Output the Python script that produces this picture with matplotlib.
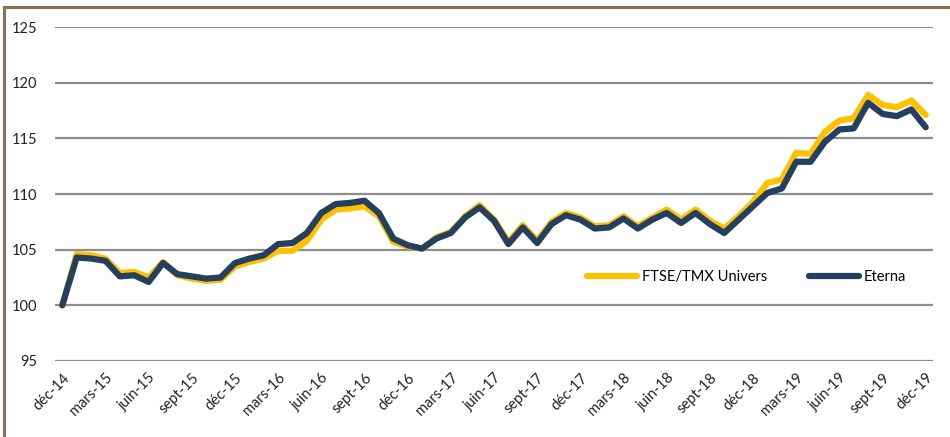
import numpy as np
import matplotlib.pyplot as plt
from matplotlib.lines import Line2D

plt.rcParams['font.family'] = ['Lato', 'DejaVu Sans']

# monthly index, déc-14 .. déc-19 (base 100)
ftse = [100.0, 104.6, 104.5, 104.2, 102.9, 103.0, 102.5, 103.9, 102.7, 102.4,
        102.2, 102.3, 103.5, 103.9, 104.2, 104.9, 104.9, 105.8, 107.7, 108.6,
        108.7, 108.9, 108.0, 105.7, 105.3, 105.1, 106.1, 106.6, 108.0, 109.0,
        107.7, 105.7, 107.2, 105.8, 107.5, 108.3, 107.9, 107.1, 107.2, 108.0,
        107.1, 107.9, 108.6, 107.7, 108.6, 107.6, 106.9, 108.0, 109.3, 111.0,
        111.3, 113.7, 113.6, 115.6, 116.6, 116.8, 118.9, 118.0, 117.8, 118.4,
        117.1]
eterna = [100.0, 104.3, 104.2, 104.0, 102.6, 102.7, 102.1, 103.8, 102.8, 102.6,
          102.4, 102.5, 103.8, 104.2, 104.5, 105.5, 105.6, 106.5, 108.3, 109.1,
          109.2, 109.4, 108.3, 106.0, 105.4, 105.1, 106.0, 106.5, 107.9, 108.8,
          107.6, 105.5, 107.0, 105.6, 107.3, 108.1, 107.7, 106.9, 107.0, 107.8,
          106.9, 107.7, 108.3, 107.4, 108.3, 107.3, 106.5, 107.7, 108.9, 110.1,
          110.5, 112.9, 112.9, 114.7, 115.8, 115.9, 118.2, 117.2, 117.0, 117.6,
          116.0]
months = ["déc", "mars", "juin", "sept"]
tick_labels = [f"{months[k % 4]}-{14 + (k + 3) // 4}" for k in range(21)]

fig = plt.figure(figsize=(9.5, 4.37), dpi=100)
ax = fig.add_axes([0.058, 0.174, 0.924, 0.764])

x = np.arange(len(ftse))
ax.plot(x, ftse, color="#FFC000", lw=4.5, solid_capstyle="round",
        solid_joinstyle="round", label="FTSE/TMX Univers", zorder=3)
ax.plot(x, eterna, color="#243F60", lw=4.5, solid_capstyle="round",
        solid_joinstyle="round", label="Eterna", zorder=4)

ax.set_xlim(-0.5, 60.5)
ax.set_ylim(95, 125)
ax.set_yticks(range(95, 126, 5))
ax.set_xticks(range(0, 61, 3))
ax.set_xticklabels(tick_labels, rotation=45, ha="right", rotation_mode="anchor")
ax.tick_params(length=0, labelsize=10.5, colors="#222222")
ax.tick_params(axis="y", pad=13)
ax.tick_params(axis="x", pad=7)
for s in ax.spines.values():
    s.set_visible(False)
ax.grid(axis="y", color="#8C8C8C", lw=1.6)
ax.set_axisbelow(True)

ax.legend(loc="center", bbox_to_anchor=(0.788, 0.25), ncol=2, frameon=False,
          fontsize=10.5, handlelength=3.4, columnspacing=2.9, handletextpad=0.35)

# brown frame (left and top edges visible)
fig.add_artist(Line2D([0.0045, 0.0045], [0, 0.985], transform=fig.transFigure,
                      color="#8B7050", lw=2.2))
fig.add_artist(Line2D([0.0045, 1.0], [0.985, 0.985], transform=fig.transFigure,
                      color="#8B7050", lw=2.2))

fig.savefig("out.png", dpi=100)
